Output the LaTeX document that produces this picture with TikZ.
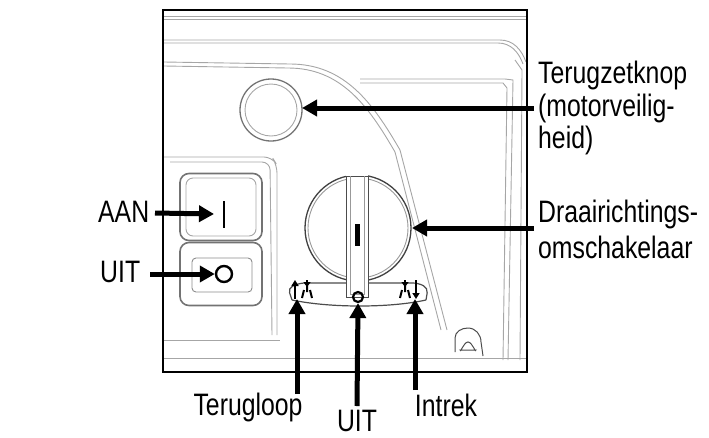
\documentclass[tikz,border=0pt]{standalone}
\usepackage{fontspec}
\setmainfont[FakeStretch=0.8]{Liberation Sans}
\usetikzlibrary{arrows.meta}
\begin{document}
\begin{tikzpicture}[x=1pt,y=-1pt,
  lbl/.style={font=\fontsize{31}{36}\selectfont, inner sep=0pt, align=left},
  arr/.style={line width=5pt,-{Triangle[length=15pt,width=16pt]}},
  bg/.style={draw=black!35, line width=0.9pt},
  dk/.style={draw=black!70, line width=1pt}]
\useasboundingbox (0,0) rectangle (709,437);
% background contours
\draw[bg] (164,16) -- (526,16);
\draw[bg] (164,19) -- (526,19);
\draw[bg] (164,40) -- (500,40) to[out=0,in=110] (526,62);
\draw[bg] (164,43) -- (498,43) to[out=0,in=110] (523,64);
\draw[bg] (164,62) -- (290,64) to[out=0,in=120] (400,150) -- (447,330);
\draw[bg] (164,66) -- (288,68) to[out=0,in=120] (395,152) -- (441,330);
\draw[bg] (360,79) -- (505,79) -- (513,80) -- (508,360);
\draw[bg] (360,83) -- (503,83) -- (507,88) -- (503,360);
\draw[bg] (515,60) -- (522,70) -- (520,360);
\draw[bg] (164,358) -- (526,358);
\draw[bg] (164,340) -- (280,340);
% hook
\draw[dk] (455,352) -- (455,338) to[out=90,in=180] (468,328) to[out=0,in=90] (481,342) -- (483,356);
\draw[dk] (460,350) to[out=-90,in=180] (468,342) to[out=0,in=-90] (476,350) -- cycle;
% frame
\draw[line width=2.5pt] (163,10) rectangle (527,372);
% switch housing
\draw[bg, rounded corners=8pt] (164,157) -- (272,157) -- (277,165) -- (277,335);
\draw[bg, rounded corners=8pt] (170,162) -- (270,162) -- (272,335);
\node[draw=black!55, line width=1.6pt, rounded corners=9pt, minimum width=82pt, minimum height=67pt] (bon) at (221,207) {};
\draw[black!35, line width=0.9pt, rounded corners=7pt] (186,178) rectangle (256,236);
\node[draw=black!55, line width=1.6pt, rounded corners=9pt, minimum width=82pt, minimum height=63pt] (boff) at (221,274) {};
\draw[black!45, line width=0.9pt, rounded corners=4pt] (192,258) rectangle (252,292);
\coordinate (Imark) at (214,214);
\draw[line width=2.8pt] (224,201) -- (224,228);
\node[circle, draw, line width=2.4pt, minimum size=16pt, inner sep=0pt] (Omark) at (224,274) {};
% reset button
\node[circle, draw=black!55, line width=1.3pt, minimum size=62pt, inner sep=0pt] (reset) at (271,110) {};
\draw[black!35, line width=0.9pt] (271,110) circle (26);
% dial label panel
\draw[dk, line width=1.2pt, rounded corners=5pt] (292,300) -- (288,288) -- (300,283) -- (418,283) -- (428,288) -- (426,300);
\draw[dk, line width=1.2pt] (292,300) .. controls (330,308) and (390,308) .. (426,300);
% dial
\node[circle, draw=black!75, line width=1.3pt, minimum size=106pt, inner sep=0pt] (dial) at (358,228) {};
\draw[black!40, line width=0.9pt] (358,228) circle (50);
\fill[white] (346,174) rectangle (368,300);
\draw[dk] (346,176) -- (346,297) -- (368,297) -- (368,176) -- cycle;
\draw[black!40, line width=0.8pt] (350,176) -- (350,294) -- (364,294) -- (364,176);
\fill (355,224) rectangle (360,246);
% symbols
\draw[line width=2.6pt,-{Triangle[length=6pt,width=7pt]}] (295,299) -- (295,280);
\draw[line width=2pt] (302,298) -- (304,290) (312,298) -- (310,290) (307,285) -- (307,292);
\draw[line width=2pt,-{Triangle[length=5pt,width=7pt]}] (307,280) -- (307,287);
\node[circle, draw, line width=2.2pt, minimum size=10pt, inner sep=0pt] (Osym) at (358,297) {};
\draw[line width=2pt] (400,298) -- (402,290) (410,298) -- (408,290) (405,285) -- (405,292);
\draw[line width=2pt,-{Triangle[length=5pt,width=7pt]}] (405,280) -- (405,287);
\draw[line width=2.6pt,-{Triangle[length=6pt,width=7pt]}] (416,280) -- (416,299);
% labels
\node[lbl, anchor=west] (terug) at (538,75) {Terugzetknop};
\node[lbl, anchor=west] (terug2) at (538,108) {(motorveilig-};
\node[lbl, anchor=west] (terug3) at (538,140) {heid)};
\node[lbl, anchor=west] (draai) at (538,214) {Draairichtings-};
\node[lbl, anchor=west] (draai2) at (538,247) {omschakelaar};
\node[lbl, anchor=west] (aan) at (98,212) {AAN};
\node[lbl, anchor=west] (uit) at (100,272) {UIT};
\node[lbl] (tl) at (248,407) {Terugloop};
\node[lbl] (uitb) at (357,421) {UIT};
\node[lbl] (intrek) at (446,405) {Intrek};
% arrows
\coordinate (rA) at (534,108);
\coordinate (rB) at (302,108);
\draw[arr] (rA) -- (rB);
\coordinate (dA) at (534,228);
\coordinate (dB) at (412,228);
\draw[arr] (dA) -- (dB);
\coordinate (aA) at (155,213);
\draw[arr] (aA) -- (Imark);
\coordinate (uA) at (150,274);
\draw[arr] (uA) -- (Omark.west);
\coordinate (tA) at (297,394);
\coordinate (tB) at (297,299);
\draw[arr] (tA) -- (tB);
\coordinate (oA) at (357,406);
\draw[arr] (oA) -- (Osym.south);
\coordinate (iA) at (415,390);
\coordinate (iB) at (415,299);
\draw[arr] (iA) -- (iB);
\end{tikzpicture}
\end{document}
